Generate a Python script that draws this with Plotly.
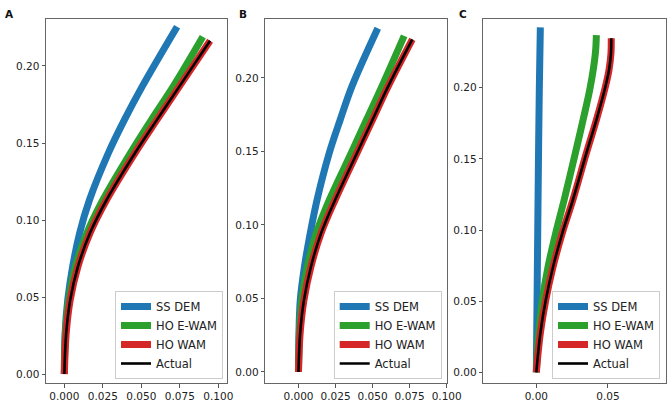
import plotly.graph_objects as go

# ---------------- data ----------------
series_names = ["SS DEM", "HO E-WAM", "HO WAM", "Actual"]
panel_labels = ["A", "B", "C"]

# Panel A
a_ss_dem_y = [0, 0.0264, 0.048, 0.0697, 0.0914, 0.113, 0.1433, 0.165, 0.1866, 0.2255]
a_ss_dem_x = [0, 0.0005, 0.0022, 0.0054, 0.0099, 0.0163, 0.0285, 0.0390, 0.0505, 0.0732]
a_ho_ewam_y = [0, 0.0264, 0.048, 0.0697, 0.0914, 0.113, 0.1433, 0.165, 0.1866, 0.219]
a_ho_ewam_x = [0, 0.0007, 0.0029, 0.0072, 0.0146, 0.0250, 0.0428, 0.0565, 0.0706, 0.0899]
a_ho_wam_y = [0, 0.0264, 0.048, 0.0697, 0.0914, 0.113, 0.1433, 0.165, 0.1866, 0.2164]
a_ho_wam_x = [0, 0.0012, 0.0038, 0.0088, 0.0166, 0.0274, 0.0458, 0.0601, 0.0746, 0.0946]
a_actual_y = [0, 0.0264, 0.048, 0.0697, 0.0914, 0.113, 0.1433, 0.165, 0.1866, 0.2164]
a_actual_x = [0, 0.0012, 0.0038, 0.0088, 0.0166, 0.0274, 0.0458, 0.0601, 0.0746, 0.0946]

# Panel B
b_ss_dem_y = [0, 0.0263, 0.049, 0.0716, 0.0943, 0.117, 0.1488, 0.1714, 0.1941, 0.2338]
b_ss_dem_x = [0, 0.0003, 0.0012, 0.004, 0.0079, 0.0125, 0.0207, 0.0281, 0.036, 0.0535]
b_ho_ewam_y = [0, 0.0263, 0.049, 0.0716, 0.0943, 0.117, 0.1488, 0.1714, 0.1941, 0.2286]
b_ho_ewam_x = [0, 0.0006, 0.0022, 0.0060, 0.0120, 0.0208, 0.0355, 0.0458, 0.0562, 0.0713]
b_ho_wam_y = [0, 0.0263, 0.049, 0.0716, 0.0943, 0.117, 0.1488, 0.1714, 0.1941, 0.2263]
b_ho_wam_x = [0, 0.0011, 0.0037, 0.0084, 0.0152, 0.0247, 0.0394, 0.0499, 0.0604, 0.0768]
b_actual_y = [0, 0.0263, 0.049, 0.0716, 0.0943, 0.117, 0.1488, 0.1714, 0.1941, 0.2263]
b_actual_x = [0, 0.0011, 0.0037, 0.0084, 0.0152, 0.0247, 0.0394, 0.0499, 0.0604, 0.0768]

# Panel C
c_ss_dem_y = [0, 0.05, 0.1, 0.15, 0.2, 0.2424]
c_ss_dem_x = [0, 0.0005, 0.001, 0.0015, 0.0021, 0.0028]
c_ho_ewam_y = [0, 0.0274, 0.0508, 0.0742, 0.0977, 0.1211, 0.1539, 0.1773, 0.2007, 0.2242, 0.237]
c_ho_ewam_x = [0, 0.0017, 0.0042, 0.0082, 0.0135, 0.0194, 0.0272, 0.0326, 0.0377, 0.0412, 0.0419]
c_ho_wam_y = [0, 0.0274, 0.0508, 0.0742, 0.0977, 0.1211, 0.1539, 0.1773, 0.2007, 0.2124, 0.2242, 0.2347]
c_ho_wam_x = [0, 0.0028, 0.0066, 0.0117, 0.0181, 0.0255, 0.0349, 0.0419, 0.0482, 0.0507, 0.0521, 0.0523]
c_actual_y = [0, 0.0274, 0.0508, 0.0742, 0.0977, 0.1211, 0.1539, 0.1773, 0.2007, 0.2124, 0.2242, 0.2347]
c_actual_x = [0, 0.0028, 0.0066, 0.0117, 0.0181, 0.0255, 0.0349, 0.0419, 0.0482, 0.0507, 0.0521, 0.0523]

# ---------------- styling ----------------
W, H = 669, 403
colors = ["#1f77b4", "#2ca02c", "#d62728", "#000000"]
widths = [7, 7, 7, 2.6]
FONT = "DejaVu Sans"

panels = [
    [(a_ss_dem_x, a_ss_dem_y), (a_ho_ewam_x, a_ho_ewam_y), (a_ho_wam_x, a_ho_wam_y), (a_actual_x, a_actual_y)],
    [(b_ss_dem_x, b_ss_dem_y), (b_ho_ewam_x, b_ho_ewam_y), (b_ho_wam_x, b_ho_wam_y), (b_actual_x, b_actual_y)],
    [(c_ss_dem_x, c_ss_dem_y), (c_ho_ewam_x, c_ho_ewam_y), (c_ho_wam_x, c_ho_wam_y), (c_actual_x, c_actual_y)],
]

# pixel geometry of each axes box: (left, right)
px_x = [(46, 227), (265.3, 446.7), (483.3, 666)]
py_top, py_bot = 19, 383
x_ranges = [[-0.0119, 0.1056], [-0.0224, 0.1000], [-0.0370, 0.0905]]
y_ranges = [[-0.0058, 0.2305], [-0.0075, 0.2401], [-0.0075, 0.2483]]
x_dticks = [0.025, 0.025, 0.05]
x_formats = [".3f", ".3f", ".2f"]
legend_right_px = [223, 441.7, 660]
label_px = [9.3, 243, 462.5]

fig = go.Figure()
legend_ids = ["legend", "legend2", "legend3"]

for p, curves in enumerate(panels):
    xa = "x" if p == 0 else f"x{p+1}"
    ya = "y" if p == 0 else f"y{p+1}"
    for s, (xs, ys) in enumerate(curves):
        fig.add_trace(go.Scatter(
            x=xs, y=ys, mode="lines", name=series_names[s],
            line=dict(color=colors[s], width=widths[s], shape="spline", smoothing=1.0),
            xaxis=xa, yaxis=ya, legend=legend_ids[p], showlegend=True,
            hoverinfo="skip",
        ))

axis_common = dict(
    showgrid=False, zeroline=False, showline=True, mirror=True, automargin=False,
    linecolor="#666666", linewidth=1, ticks="outside", ticklen=3.5,
    tickcolor="#555555", tickwidth=1,
    tickfont=dict(family=FONT, size=10.5, color="#222222"),
)

layout = dict(
    width=W, height=H, autosize=False, margin=dict(l=0, r=0, t=0, b=0, autoexpand=False),
    paper_bgcolor="white", plot_bgcolor="white",
    font=dict(family=FONT, color="#222222"),
)

y_dom = [(H - py_bot) / H, (H - py_top) / H]
for p in range(3):
    xk = "xaxis" if p == 0 else f"xaxis{p+1}"
    yk = "yaxis" if p == 0 else f"yaxis{p+1}"
    ya = "y" if p == 0 else f"y{p+1}"
    xa = "x" if p == 0 else f"x{p+1}"
    layout[xk] = dict(axis_common, domain=[px_x[p][0] / W, px_x[p][1] / W],
                      range=x_ranges[p], dtick=x_dticks[p], tick0=0,
                      tickformat=x_formats[p], anchor=ya)
    layout[yk] = dict(axis_common, domain=y_dom, range=y_ranges[p],
                      dtick=0.05, tick0=0, tickformat=".2f", anchor=xa)
    layout[legend_ids[p]] = dict(
        x=legend_right_px[p] / W, y=(H - 379) / H, xanchor="right", yanchor="bottom",
        bgcolor="rgba(255,255,255,0.85)", bordercolor="#cccccc", borderwidth=1,
        font=dict(family=FONT, size=11.5, color="#222222"),
        tracegroupgap=0,
    )

fig.update_layout(**layout)

for p in range(3):
    fig.add_annotation(
        text=f"<b>{panel_labels[p]}</b>", x=label_px[p] / W, y=(H - 14) / H,
        xref="paper", yref="paper", xanchor="center", yanchor="middle",
        showarrow=False, font=dict(family=FONT, size=10.5, color="#111111"),
    )

fig.write_html(
    "out.html",
    config={"displayModeBar": False, "responsive": False},
    post_script="document.body.style.margin='0';document.body.style.overflow='hidden';"
                "document.documentElement.style.overflow='hidden';",
)
